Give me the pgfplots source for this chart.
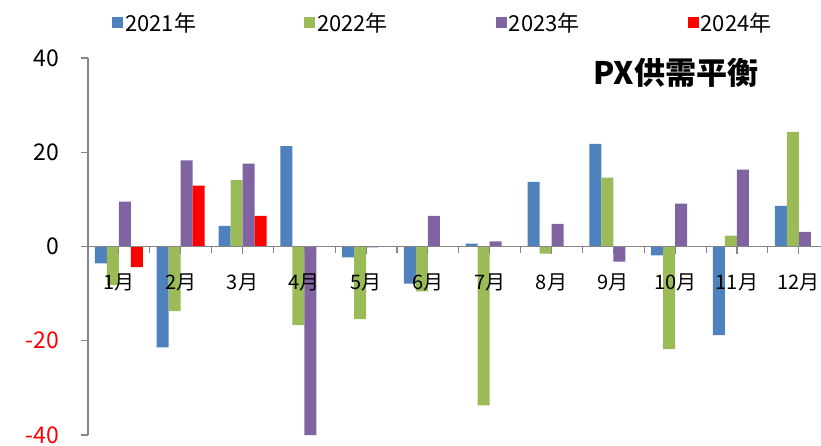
\documentclass[border=0pt]{standalone}
\usepackage{fontspec}
\setmainfont{Noto Sans CJK SC}
\usepackage{pgfplots}
\pgfplotsset{compat=1.18}
\definecolor{cA}{HTML}{4F81BD}
\definecolor{cB}{HTML}{9BBB59}
\definecolor{cC}{HTML}{8064A2}
\definecolor{cD}{HTML}{FF0000}
\definecolor{axgray}{HTML}{868686}

\begin{document}
\begin{tikzpicture}
\path[use as bounding box] (-88pt,-10pt) rectangle (733pt,435pt);
\begin{axis}[
  scale only axis, width=733pt, height=377pt,
  ybar=0pt, bar width=12pt,
  legend image code/.code={\fill[#1,draw=none] (0pt,-5.5pt) rectangle (11pt,5.5pt);},
  xmin=-0.5, xmax=11.36, ymin=-40, ymax=40,
  axis x line=middle, axis y line=left,
  axis line style={-, draw=axgray, line width=1.1pt},
  axis on top,
  xtick={0,1,...,11},
  xticklabels={1月,2月,3月,4月,5月,6月,7月,8月,9月,10月,11月,12月},
  x tick label style={yshift=-17pt, font=\fontsize{20}{24}\selectfont},
  ytick={-40,-20,0,20,40},
  yticklabels={\textcolor{red}{-40},\textcolor{red}{-20},0,20,40},
  tick align=outside, major tick length=7pt,
  tick style={draw=axgray, line width=1.1pt},
  y tick label style={xshift=-18pt, font=\fontsize{23}{26}\selectfont},
  legend columns=4,
  legend style={draw=none, fill=none, inner sep=0pt,
    at={(axis description cs:0.0327,1.093)}, anchor=west,
    font=\fontsize{22}{25}\selectfont,
    /tikz/every even column/.append style={column sep=106pt}},
]
\addplot[fill=cA, draw=none] coordinates {
 (0,-3.6) (1,-21.4) (2,4.4) (3,21.3) (4,-2.3) (5,-7.9)
 (6,0.6) (7,13.7) (8,21.8) (9,-1.9) (10,-18.8) (11,8.6)};
\addplot[fill=cB, draw=none] coordinates {
 (0,-8.2) (1,-13.7) (2,14.1) (3,-16.7) (4,-15.4) (5,-9.5)
 (6,-33.7) (7,-1.5) (8,14.6) (9,-21.8) (10,2.3) (11,24.3)};
\addplot[fill=cC, draw=none] coordinates {
 (0,9.5) (1,18.3) (2,17.6) (3,-40) (4,-0.2) (5,6.5)
 (6,1.1) (7,4.8) (8,-3.2) (9,9.1) (10,16.3) (11,3.1)};
\addplot[fill=cD, draw=none] coordinates {
 (0,-4.4) (1,12.9) (2,6.5)};
\legend{2021年,2022年,2023年,2024年}
\node[font=\fontsize{31}{36}\selectfont\bfseries] at (rel axis cs:0.802,0.960) {PX供需平衡};
\end{axis}
% category boundary ticks on the zero line
\begin{axis}[
  scale only axis, width=733pt, height=188.5pt,
  at={(0pt,188.5pt)}, anchor=south west,
  xmin=-0.5, xmax=11.36, ymin=0, ymax=1,
  axis x line=bottom, axis y line=none,
  axis line style={-, draw=axgray, line width=1.1pt},
  xtick={0.5,1.5,...,10.5}, xticklabels={},
  tick align=outside, major tick length=6pt,
  tick style={draw=axgray, line width=1.1pt},
]
\end{axis}
\end{tikzpicture}
\end{document}
